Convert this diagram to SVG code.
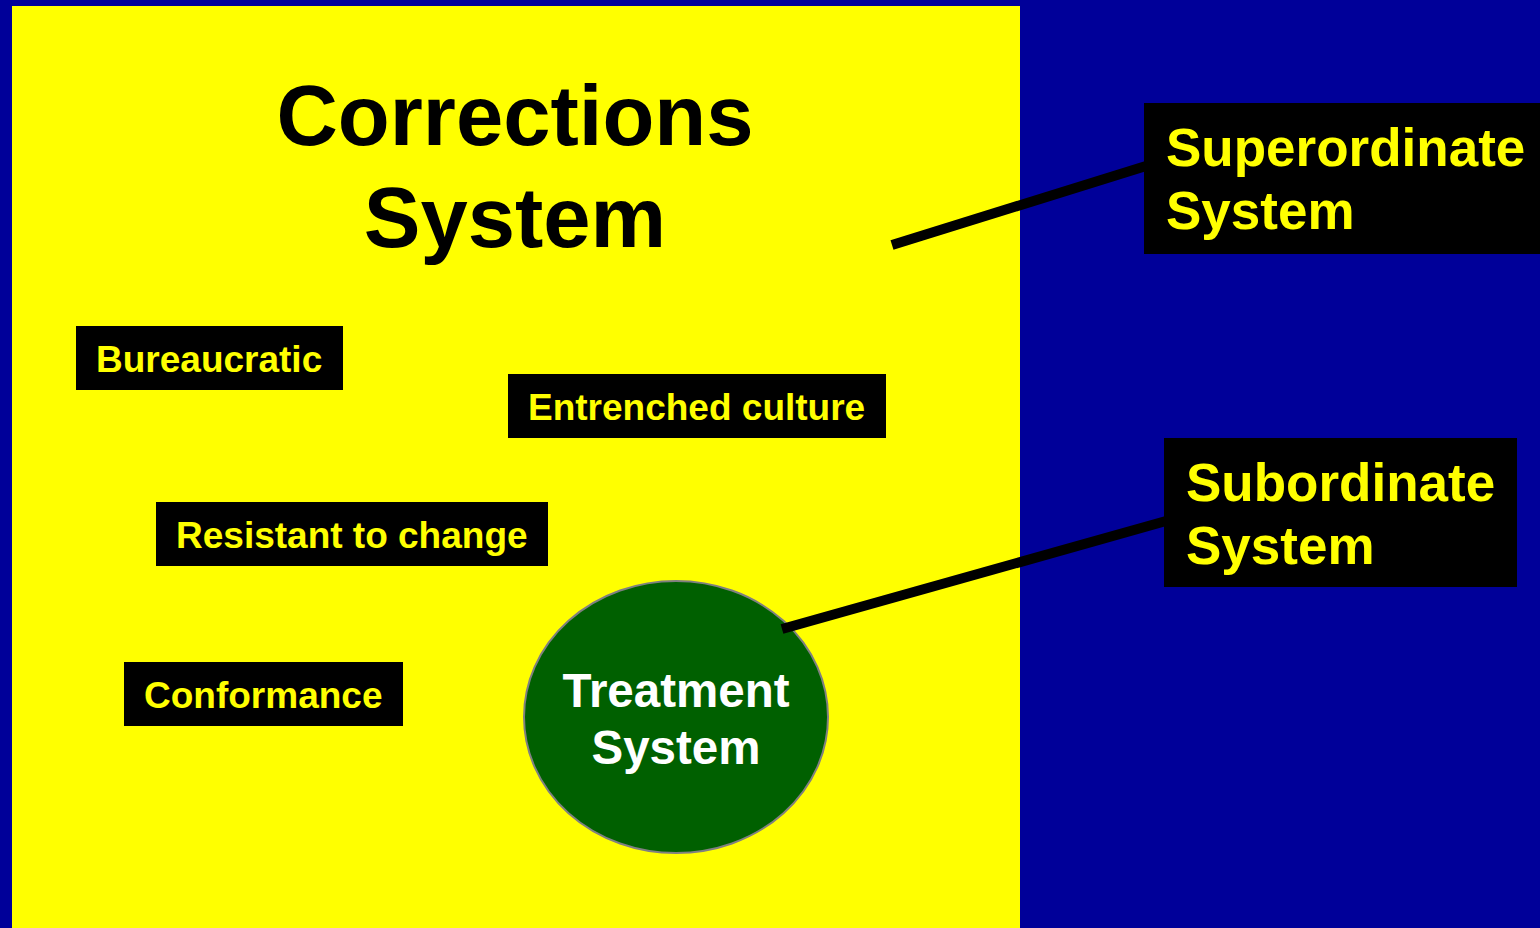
<svg xmlns="http://www.w3.org/2000/svg" width="1540" height="928" viewBox="0 0 1540 928">
<style>
.lbl{font-family:"Liberation Sans",Arial,sans-serif;font-weight:bold;fill:#ffff00;font-size:37px}
.big{font-family:"Liberation Sans",Arial,sans-serif;font-weight:bold;fill:#ffff00;font-size:53px}
.box{fill:#000000}
.conn{stroke:#000000;stroke-width:10;fill:none}
</style>
<rect x="0" y="0" width="1540" height="928" fill="#000099"/>
<rect x="12" y="6" width="1008" height="922" fill="#ffff00"/>
<g id="title">
<text x="515" y="145" text-anchor="middle" font-family="Liberation Sans,Arial,sans-serif" font-weight="bold" font-size="85" fill="#000000">Corrections</text>
<text x="515" y="247" text-anchor="middle" font-family="Liberation Sans,Arial,sans-serif" font-weight="bold" font-size="85" fill="#000000">System</text>
</g>
<g id="bureaucratic">
<rect class="box" x="76" y="326" width="267" height="64"/>
<text class="lbl" x="96" y="372">Bureaucratic</text>
</g>
<g id="entrenched">
<rect class="box" x="508" y="374" width="378" height="64"/>
<text class="lbl" x="528" y="420">Entrenched culture</text>
</g>
<g id="resistant">
<rect class="box" x="156" y="502" width="392" height="64"/>
<text class="lbl" x="176" y="548">Resistant to change</text>
</g>
<g id="conformance">
<rect class="box" x="124" y="662" width="279" height="64"/>
<text class="lbl" x="144" y="708">Conformance</text>
</g>
<g id="treatment">
<ellipse cx="676" cy="717" rx="152" ry="136" fill="#006000" stroke="#808080" stroke-width="2"/>
<text x="676" y="707" text-anchor="middle" font-family="Liberation Sans,Arial,sans-serif" font-weight="bold" font-size="47.5" fill="#ffffff">Treatment</text>
<text x="676" y="764" text-anchor="middle" font-family="Liberation Sans,Arial,sans-serif" font-weight="bold" font-size="47.5" fill="#ffffff">System</text>
</g>
<g id="superordinate">
<rect class="box" x="1144" y="103" width="396" height="151"/>
<text class="big" x="1166" y="166">Superordinate</text>
<text class="big" x="1166" y="229">System</text>
</g>
<g id="subordinate">
<rect class="box" x="1164" y="438" width="353" height="149"/>
<text class="big" x="1186" y="501">Subordinate</text>
<text class="big" x="1186" y="564">System</text>
</g>
<g id="connectors">
<line class="conn" x1="892" y1="245" x2="1146" y2="166"/>
<line class="conn" x1="782" y1="629" x2="1166" y2="521"/>
</g>
</svg>
